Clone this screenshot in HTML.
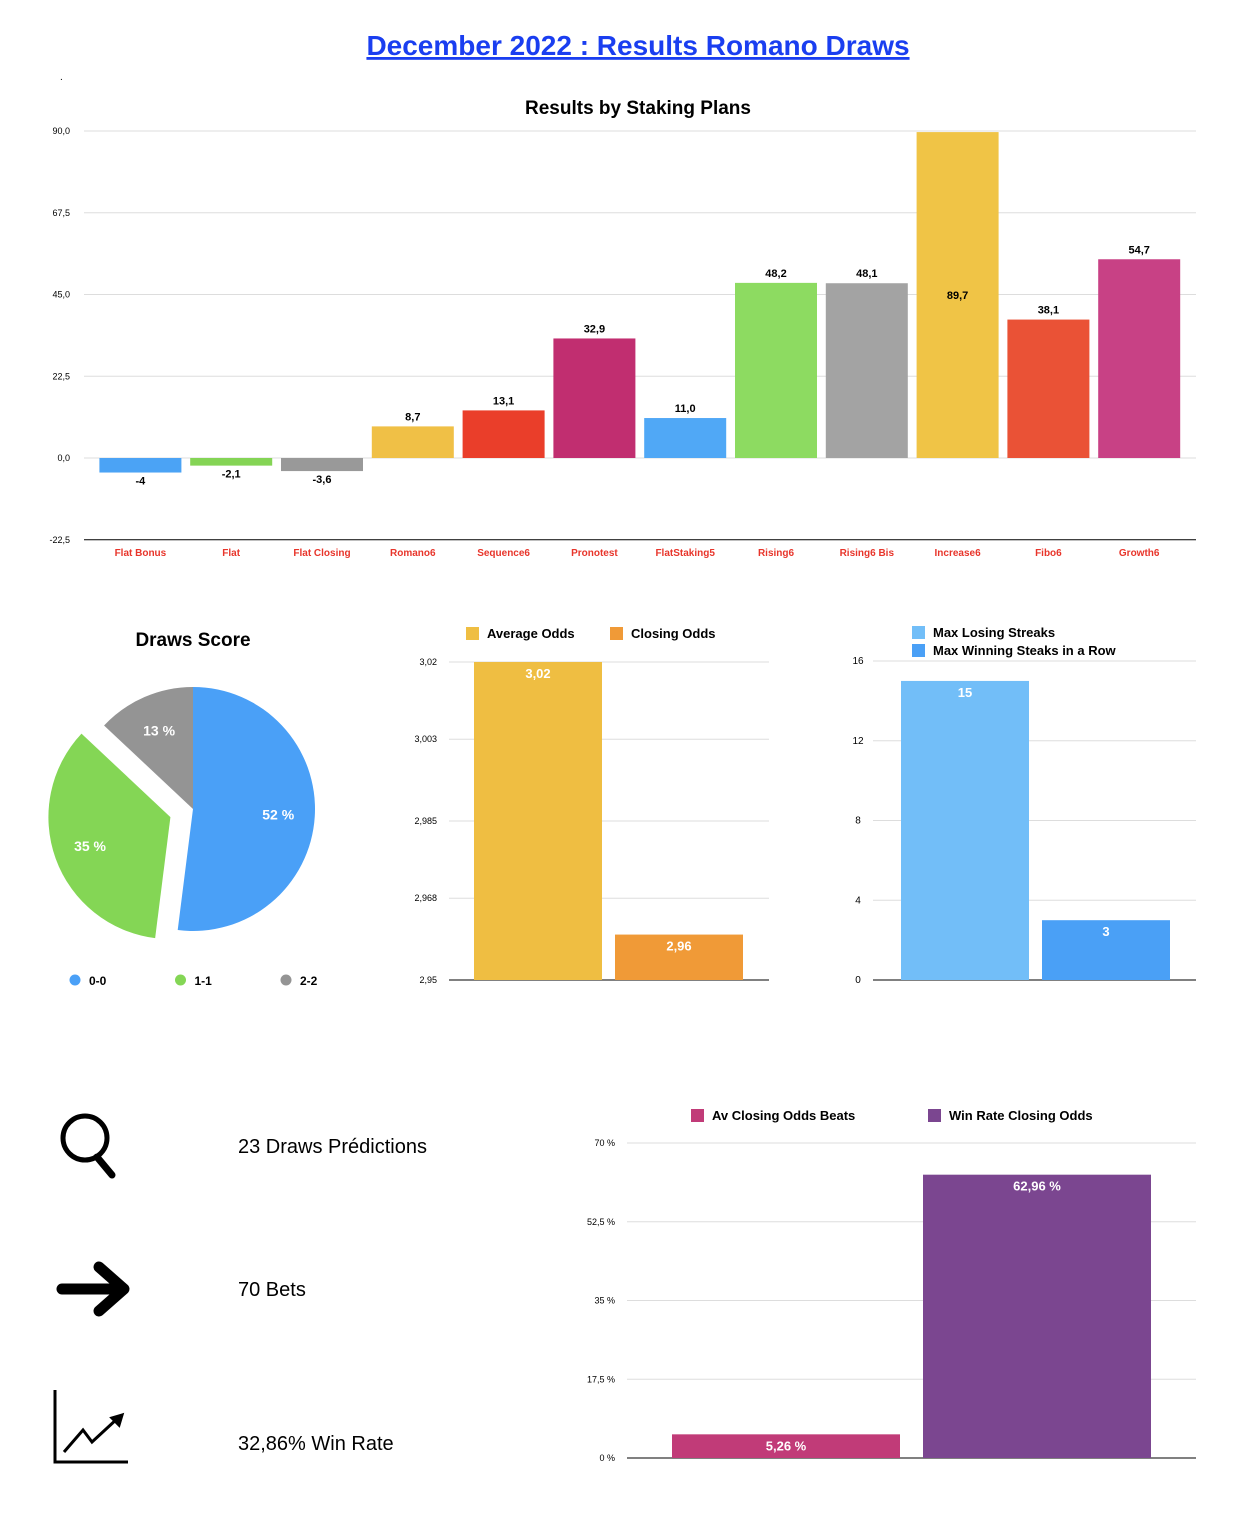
<!DOCTYPE html>
<html><head><meta charset="utf-8">
<style>
body{margin:0;background:#fff;width:1250px;height:1526px;overflow:hidden;font-family:"Liberation Sans",Arial,sans-serif;}
svg{position:absolute;left:0;top:0}
</style></head>
<body>
<svg id="s" width="1250" height="1526" xmlns="http://www.w3.org/2000/svg" font-family="Liberation Sans, Arial, sans-serif">
<a href="#"><text x="638" y="55" text-anchor="middle" font-size="28" font-weight="bold" fill="#1a3ef0" text-decoration="underline">December 2022 : Results Romano Draws</text></a>
<text x="60" y="80" font-size="10">.</text>
<text x="638" y="114" text-anchor="middle" font-size="19" font-weight="bold">Results by Staking Plans</text>
<text x="193" y="646" text-anchor="middle" font-size="19" font-weight="bold">Draws Score</text>
<g id="main"></g><g id="pie"></g><g id="odds"></g><g id="streak"></g><g id="rate"></g>
<g fill="none" stroke="#000" stroke-width="5">
<circle cx="85" cy="1138" r="22"/><line x1="97" y1="1157" x2="112" y2="1175" stroke-width="7" stroke-linecap="round"/></g>
<g fill="none" stroke="#000" stroke-width="11" stroke-linecap="round" stroke-linejoin="round">
<line x1="62" y1="1289" x2="122" y2="1289"/><polyline points="99,1267 124,1289 99,1311"/></g>
<g fill="none" stroke="#000" stroke-width="3">
<polyline points="55,1390 55,1462 128,1462"/><polyline points="64,1452 83,1430 92,1442 118,1418"/>
<polygon points="122,1415 112,1418 119,1425" fill="#000"/></g>
<text x="238" y="1153" font-size="20">23 Draws Prédictions</text>
<text x="238" y="1296" font-size="20">70 Bets</text>
<text x="238" y="1450" font-size="20">32,86% Win Rate</text>
</svg>
<script>
const NS="http://www.w3.org/2000/svg";
const mainCats=["Flat Bonus","Flat","Flat Closing","Romano6","Sequence6","Pronotest","FlatStaking5","Rising6","Rising6 Bis","Increase6","Fibo6","Growth6"];
const mainVals=[-4,-2.1,-3.6,8.7,13.1,32.9,11.0,48.2,48.1,89.7,38.1,54.7];
const mainLabels=["-4","-2,1","-3,6","8,7","13,1","32,9","11,0","48,2","48,1","89,7","38,1","54,7"];
const mainColors=["#4ba3f5","#84d455","#999999","#f0c046","#ea3e2a","#c12e70","#50a8f6","#8ddb61","#a3a3a3","#f0c446","#ea5236","#c84185"];
const mainTicks=[-22.5,0,22.5,45,67.5,90];
const mainTickLabels=["-22,5","0,0","22,5","45,0","67,5","90,0"];
const pieLabels=["0-0","1-1","2-2"];
const pieVals=[52,35,13];
const pieColors=["#4aa0f7","#84d655","#949494"];
const oddsCats=["Average Odds","Closing Odds"];
const oddsVals=[3.02,2.96];
const oddsLabels=["3,02","2,96"];
const oddsTicks=[2.95,2.968,2.985,3.003,3.02];
const oddsTickLabels=["2,95","2,968","2,985","3,003","3,02"];
const streakCats=["Max Losing Streaks","Max Winning Steaks in a Row"];
const streakVals=[15,3];
const streakTicks=[0,4,8,12,16];
const rateCats=["Av Closing Odds Beats","Win Rate Closing Odds"];
const rateVals=[5.26,62.96];
const rateLabels=["5,26 %","62,96 %"];
const rateTicks=[0,17.5,35,52.5,70];
const rateTickLabels=["0 %","17,5 %","35 %","52,5 %","70 %"];

function el(p,t,a,txt){const e=document.createElementNS(NS,t);for(const k in a)e.setAttribute(k,a[k]);if(txt!==undefined)e.textContent=txt;p.appendChild(e);return e;}

(function(){
const g=document.getElementById('main');
const y=v=>458-v*(327/90);
const x0=95,step=90.8,bw=82;
mainTicks.forEach((t,i)=>{
 const l=el(g,'line',{x1:84,x2:1196,y1:y(t),y2:y(t),stroke:i==0?'#000':'#ddd','stroke-width':1});
 
 
 const tx=el(g,'text',{x:70,y:y(t)+3,'text-anchor':'end','font-size':9},mainTickLabels[i]);
 
 
});
mainVals.forEach((v,i)=>{
 const cx=x0+step*(i+0.5);
 const top=Math.min(y(v),y(0)),h=Math.abs(y(v)-y(0));
 const r=el(g,'rect',{x:cx-bw/2,y:top,width:bw,height:h,fill:mainColors[i]});
 
 
 let ly;
 if(v<0) ly=y(0)+Math.max(h,6)+12;
 else if(v>80) ly=top+h/2+4;
 else ly=y(v)-6;
 const t=el(g,'text',{x:cx,y:ly,'text-anchor':'middle','font-size':11,'font-weight':'bold'},mainLabels[i]);
 
 
 const c=el(g,'text',{x:cx,y:556,'text-anchor':'middle','font-size':10,'font-weight':'bold',fill:'#e8352b'},mainCats[i]);
 
 
});
})();

(function(){
const g=document.getElementById('pie');
const cx=193,cy=809,R=122;
const total=pieVals.reduce((a,b)=>a+b,0);
let a0=0;
[0,1,2].forEach(i=>{
 const frac=pieVals[i]/total, a1=a0+frac*2*Math.PI, am=(a0+a1)/2;
 const off=i==1?24:0;
 const ox=cx+Math.sin(am)*off, oy=cy-Math.cos(am)*off;
 const p=(a)=>[ox+Math.sin(a)*R, oy-Math.cos(a)*R];
 const [x1,y1]=p(a0),[x2,y2]=p(a1);
 const path=el(g,'path',{d:`M${ox},${oy}L${x1},${y1}A${R},${R} 0 ${frac>0.5?1:0} 1 ${x2},${y2}Z`,fill:pieColors[i]});
 
 
 const lr=R*0.7;
 const t=el(g,'text',{x:ox+Math.sin(am)*lr,y:oy-Math.cos(am)*lr+5,'text-anchor':'middle','font-size':14,'font-weight':'bold',fill:'#fff'},pieVals[i]+' %');
 
 
 a0=a1;
 const lx=75+i*105.5;
 const d=el(g,'circle',{cx:lx,cy:980,r:5.5,fill:pieColors[i]});
 
 
 const lt=el(g,'text',{x:lx+14,y:985,'font-size':12,'font-weight':'bold'},pieLabels[i]);
 
 
});
})();

function barChart(gid,cats,vals,labels,ticks,tickLabels,colors,o){
 const g=document.getElementById(gid);
 const y=v=>o.yb-(v-ticks[0])/(ticks[ticks.length-1]-ticks[0])*(o.yb-o.yt);
 ticks.forEach((t,i)=>{
  const l=el(g,'line',{x1:o.px0,x2:o.px1,y1:y(t),y2:y(t),stroke:i==0?'#000':'#ddd'});
  
  
  const tx=el(g,'text',{x:o.tx,y:y(t)+3,'text-anchor':o.anchor||'end','font-size':o.tfs||9},tickLabels[i]);
  
  
 });
 vals.forEach((v,i)=>{
  const bx=o.bx[i];
  const r=el(g,'rect',{x:bx,y:y(v),width:o.bw,height:o.yb-y(v),fill:colors[i]});
  
  
  const t=el(g,'text',{x:bx+o.bw/2,y:y(v)+16,'text-anchor':'middle','font-size':13,'font-weight':'bold',fill:'#fff'},labels[i]);
  
  
  const lx=o.lx[i],ly=o.ly[i];
  const s=el(g,'rect',{x:lx,y:ly-11,width:13,height:13,fill:colors[i]});
  
  
  const lt=el(g,'text',{x:lx+21,y:ly,'font-size':13,'font-weight':'bold'},cats[i]);
  
  
 });
}
barChart('odds',oddsCats,oddsVals,oddsLabels,oddsTicks,oddsTickLabels,["#efbe42","#f09a37"],
 {yb:980,yt:662,px0:449,px1:769,tx:437,bx:[474,615],bw:128,lx:[466,610],ly:[638,638]});
barChart('streak',streakCats,streakVals,streakVals.map(String),streakTicks,streakTicks.map(String),["#72bef8","#4aa0f6"],
 {yb:980,yt:661,px0:873,px1:1196,tx:858,anchor:'middle',tfs:10,bx:[901,1042],bw:128,lx:[912,912],ly:[637,655]});
barChart('rate',rateCats,rateVals,rateLabels,rateTicks,rateTickLabels,["#c13b78","#7b4690"],
 {yb:1458,yt:1143,px0:627,px1:1196,tx:615,bx:[672,923],bw:228,lx:[691,928],ly:[1120,1120]});
</script>
</body></html>
